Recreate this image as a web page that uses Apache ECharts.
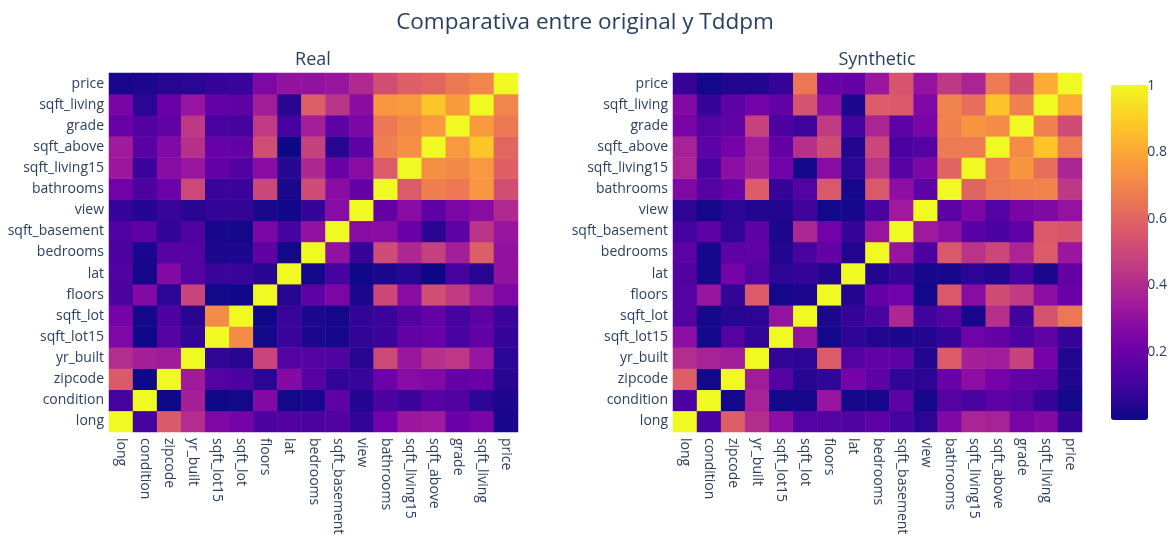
<!DOCTYPE html>
<html>
<head>
<meta charset="utf-8">
<script src="https://cdn.jsdelivr.net/npm/echarts@6/dist/echarts.min.js"></script>
<style>
  html, body { margin: 0; padding: 0; background: #fff; }
  #heat { width: 1170px; height: 540px; }
</style>
</head>
<body>
<div id="heat"></div>
<script>
// orden de variables (eje x de izquierda a derecha, eje y de abajo a arriba)
const vars = ['long', 'condition', 'zipcode', 'yr_built', 'sqft_lot15', 'sqft_lot', 'floors', 'lat',
  'bedrooms', 'sqft_basement', 'view', 'bathrooms', 'sqft_living15', 'sqft_above', 'grade', 'sqft_living', 'price'];

// triangulo inferior |corr| datos reales: fila i -> columnas 0..i-1
const realLower = [
  [],
  [0.107],
  [0.564, 0.003],
  [0.409, 0.361, 0.347],
  [0.254, 0.003, 0.147, 0.071],
  [0.230, 0.009, 0.130, 0.053, 0.719],
  [0.125, 0.264, 0.059, 0.489, 0.011, 0.005],
  [0.136, 0.015, 0.267, 0.148, 0.086, 0.086, 0.050],
  [0.129, 0.028, 0.153, 0.154, 0.029, 0.032, 0.175, 0.009],
  [0.145, 0.174, 0.075, 0.133, 0.017, 0.015, 0.246, 0.111, 0.303],
  [0.078, 0.046, 0.085, 0.053, 0.073, 0.075, 0.029, 0.006, 0.080, 0.277],
  [0.223, 0.125, 0.204, 0.506, 0.087, 0.088, 0.501, 0.025, 0.516, 0.284, 0.188],
  [0.335, 0.093, 0.279, 0.326, 0.183, 0.145, 0.280, 0.049, 0.392, 0.200, 0.280, 0.569],
  [0.344, 0.158, 0.261, 0.424, 0.194, 0.184, 0.524, 0.001, 0.478, 0.052, 0.168, 0.685, 0.732],
  [0.198, 0.145, 0.185, 0.447, 0.119, 0.114, 0.458, 0.114, 0.357, 0.168, 0.251, 0.665, 0.713, 0.756],
  [0.240, 0.059, 0.199, 0.318, 0.183, 0.173, 0.354, 0.053, 0.577, 0.435, 0.285, 0.755, 0.756, 0.877, 0.763],
  [0.022, 0.036, 0.053, 0.054, 0.082, 0.090, 0.257, 0.307, 0.308, 0.324, 0.397, 0.525, 0.585, 0.606, 0.667, 0.702]
];

// triangulo inferior |corr| datos sinteticos
const synthLower = [
  [],
  [0.12],
  [0.58, 0.01],
  [0.41, 0.37, 0.35],
  [0.29, 0.01, 0.15, 0.07],
  [0.15, 0.02, 0.05, 0.06, 0.31],
  [0.15, 0.32, 0.07, 0.57, 0.01, 0.03],
  [0.14, 0.02, 0.23, 0.15, 0.06, 0.08, 0.04],
  [0.17, 0.02, 0.17, 0.18, 0.04, 0.12, 0.19, 0.04],
  [0.11, 0.17, 0.07, 0.17, 0.03, 0.39, 0.22, 0.08, 0.32],
  [0.06, 0.02, 0.06, 0.04, 0.04, 0.10, 0.01, 0.02, 0.12, 0.34],
  [0.26, 0.15, 0.20, 0.57, 0.08, 0.15, 0.56, 0.02, 0.56, 0.29, 0.17],
  [0.38, 0.12, 0.29, 0.36, 0.22, 0.02, 0.28, 0.06, 0.43, 0.16, 0.25, 0.60],
  [0.37, 0.17, 0.23, 0.35, 0.19, 0.42, 0.52, 0.04, 0.50, 0.12, 0.15, 0.67, 0.67],
  [0.24, 0.15, 0.18, 0.48, 0.13, 0.10, 0.46, 0.11, 0.38, 0.17, 0.24, 0.69, 0.75, 0.72],
  [0.27, 0.08, 0.17, 0.23, 0.18, 0.54, 0.29, 0.03, 0.57, 0.56, 0.26, 0.70, 0.63, 0.87, 0.69],
  [0.08, 0.01, 0.04, 0.04, 0.08, 0.66, 0.20, 0.19, 0.33, 0.55, 0.31, 0.45, 0.38, 0.67, 0.52, 0.81]
];

const colorTicks = [0.2, 0.4, 0.6, 0.8, 1];
const plasma = ['#0d0887', '#46039f', '#7201a8', '#9c179e', '#bd3786', '#d8576b', '#ed7953', '#fb9f3a', '#fdca26', '#f0f921'];

// matriz completa a partir del triangulo
const buildCells = (lower) => {
  const out = [];
  for (let i = 0; i < vars.length; i++) {
    for (let j = 0; j < vars.length; j++) {
      const v = i === j ? 1 : (j < i ? lower[i][j] : lower[j][i]);
      out.push([j, i, v]);
    }
  }
  return out;
};

const txt = '#2a3f5f';
const font = '"Open Sans", "DejaVu Sans", sans-serif';

const catX = (gi) => ({
  type: 'category', gridIndex: gi, data: vars,
  axisLine: { show: false }, axisTick: { show: false }, splitLine: { show: false },
  axisLabel: { rotate: -90, margin: 6, color: txt, fontSize: 14, fontFamily: font, interval: 0 }
});
const catY = (gi) => ({
  type: 'category', gridIndex: gi, data: vars,
  axisLine: { show: false }, axisTick: { show: false }, splitLine: { show: false },
  axisLabel: { margin: 5, color: txt, fontSize: 14, fontFamily: font, interval: 0 }
});

const chart = echarts.init(document.getElementById('heat'));
chart.setOption({
  animation: false,
  backgroundColor: '#fff',
  title: [
    { text: 'Comparativa entre original y Tddpm', left: 'center', top: 11, padding: 0,
      textStyle: { color: txt, fontSize: 22.5, fontWeight: 'normal', fontFamily: font } },
    { text: 'Real', left: 313, textAlign: 'center', top: 51, padding: 0,
      textStyle: { color: txt, fontSize: 18, fontWeight: 'normal', fontFamily: font } },
    { text: 'Synthetic', left: 877, textAlign: 'center', top: 51, padding: 0,
      textStyle: { color: txt, fontSize: 18, fontWeight: 'normal', fontFamily: font } }
  ],
  grid: [
    { left: 109, top: 73, width: 409, height: 359 },
    { left: 673, top: 73, width: 409, height: 359 },
    { left: 1111, top: 86, width: 37, height: 332 }
  ],
  xAxis: [catX(0), catX(1), { type: 'value', gridIndex: 2, show: false, min: 0, max: 1 }],
  yAxis: [catY(0), catY(1), {
    type: 'value', gridIndex: 2, position: 'right', min: 0, max: 1, interval: 0.2,
    axisLine: { show: false }, axisTick: { show: false }, splitLine: { show: false },
    axisLabel: { margin: 7, color: txt, fontSize: 14, fontFamily: font,
      formatter: (v) => colorTicks.some(t => Math.abs(t - v) < 1e-6) ? String(+v.toFixed(1)) : '' }
  }],
  visualMap: {
    type: 'continuous', min: 0, max: 1, seriesIndex: [0, 1],
    left: 1111, top: 85, itemWidth: 37, itemHeight: 335, padding: 0,
    calculable: false, text: ['', ''], showLabel: false,
    inRange: { color: plasma }
  },
  series: [
    { type: 'heatmap', xAxisIndex: 0, yAxisIndex: 0, data: buildCells(realLower), itemStyle: { borderWidth: 0 } },
    { type: 'heatmap', xAxisIndex: 1, yAxisIndex: 1, data: buildCells(synthLower), itemStyle: { borderWidth: 0 } }
  ]
});
</script>
</body>
</html>
